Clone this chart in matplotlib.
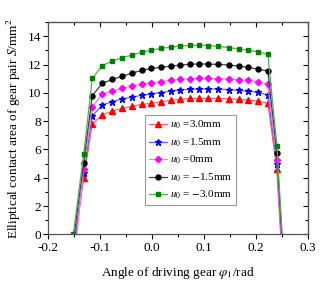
import numpy as np
import matplotlib.pyplot as plt
from matplotlib.ticker import MultipleLocator

plt.rcParams['font.family'] = ['Liberation Serif', 'DejaVu Serif']
plt.rcParams['mathtext.fontset'] = 'stix'

# angle positions of the data points (rad)
x_mid = [-0.1154, -0.0962, -0.0769, -0.0577, -0.0385, -0.0204, -0.0025, 0.0167,
         0.0360, 0.0533, 0.0725, 0.0898, 0.1071, 0.1263, 0.1475, 0.1667, 0.1840,
         0.2033, 0.2225]
x_in = -0.132
x_out = 0.2398

labels = ['$u_0$ =3.0mm', '$u_0$ =1.5mm', '$u_0$ =0mm',
          '$u_0$ = $-$1.5mm', '$u_0$ = $-$3.0mm']

s_p30 = [7.79, 8.45, 8.70, 8.90, 9.05, 9.18, 9.25, 9.37, 9.47, 9.54, 9.60, 9.61,
         9.62, 9.61, 9.58, 9.53, 9.48, 9.42, 9.26]
s_p15 = [8.36, 9.14, 9.37, 9.56, 9.70, 9.82, 9.92, 10.02, 10.12, 10.20, 10.25,
         10.27, 10.27, 10.26, 10.23, 10.18, 10.12, 10.04, 9.84]
s_0 = [9.02, 9.89, 10.15, 10.32, 10.48, 10.60, 10.70, 10.80, 10.88, 10.95, 11.00,
       11.02, 11.02, 11.00, 10.97, 10.92, 10.88, 10.78, 10.60]
s_m15 = [9.80, 10.67, 10.95, 11.17, 11.40, 11.58, 11.72, 11.80, 11.89, 11.96,
         12.02, 12.04, 12.03, 12.01, 11.96, 11.89, 11.80, 11.68, 11.54]
s_m30 = [11.02, 11.92, 12.25, 12.48, 12.68, 12.86, 13.02, 13.14, 13.23, 13.30,
         13.35, 13.36, 13.34, 13.29, 13.20, 13.10, 13.02, 12.90, 12.72]

# edge values (entry / exit of contact)
s_in = [3.96, 4.31, 4.59, 5.06, 5.65]
s_out = [4.59, 4.95, 5.25, 5.72, 6.26]
x_start = [-0.148, -0.147, -0.145, -0.150, -0.152]
x_end = [0.247, 0.248, 0.248, 0.249, 0.250]

series = [s_p30, s_p15, s_0, s_m15, s_m30]
mcolors = ['#FF0000', '#0000FF', '#FF00FF', '#000000', '#008000']
lcolors = ['#FF6060', '#6060FF', '#FF70FF', '#404040', '#50B050']
markers = ['^', '*', 'D', 'o', 's']
msizes = [3.8, 4.6, 3.2, 3.6, 3.2]

fig = plt.figure(figsize=(3.2, 2.83), dpi=100)
ax = fig.add_axes([0.151, 0.172, 0.812, 0.750])

for i in range(5):
    xs = [x_start[i], x_in] + x_mid + [x_out, x_end[i]]
    ys = [0, s_in[i]] + series[i] + [s_out[i], 0]
    first = 0 if i == 4 else 1
    ax.plot(xs, ys, color=lcolors[i], linewidth=0.9, marker=markers[i],
            markersize=msizes[i], markerfacecolor=mcolors[i],
            markeredgecolor=mcolors[i], label=labels[i],
            markevery=list(range(first, len(xs) - 1)))

ax.set_xlim(-0.2, 0.3)
ax.set_ylim(0, 15)
ax.xaxis.set_major_locator(MultipleLocator(0.1))
ax.xaxis.set_minor_locator(MultipleLocator(0.05))
ax.yaxis.set_major_locator(MultipleLocator(2))
ax.yaxis.set_minor_locator(MultipleLocator(1))
ax.set_xticks([-0.2, -0.1, 0.0, 0.1, 0.2, 0.3])
ax.set_xticklabels(['-0.2', '-0.1', '0.0', '0.1', '0.2', '0.3'])
ax.tick_params(which='both', direction='out', top=False, right=False,
               labelsize=9.5, width=0.8, pad=2)
ax.tick_params(which='major', length=3.5)
ax.tick_params(which='minor', length=2)

# inward ticks on the opposite sides
axt = ax.secondary_xaxis('top')
axt.xaxis.set_major_locator(MultipleLocator(0.1))
axt.xaxis.set_minor_locator(MultipleLocator(0.05))
axt.tick_params(which='both', direction='in', labeltop=False, width=0.8)
axt.tick_params(which='major', length=3.5)
axt.tick_params(which='minor', length=2)
axr = ax.secondary_yaxis('right')
axr.yaxis.set_major_locator(MultipleLocator(2))
axr.yaxis.set_minor_locator(MultipleLocator(1))
axr.tick_params(which='both', direction='in', labelright=False, width=0.8)
axr.tick_params(which='major', length=3.5)
axr.tick_params(which='minor', length=2)

for sp in ax.spines.values():
    sp.set_color('#555555')
    sp.set_linewidth(0.9)

ax.set_xlabel(r'Angle of driving gear $\varphi_1$/rad', fontsize=9.5, labelpad=8)
ax.set_ylabel('Elliptical contact area of gear pair $S$/mm$^2$', fontsize=9.5,
              labelpad=3)

leg = ax.legend(loc='upper left', bbox_to_anchor=(0.372, 0.562), borderaxespad=0,
                fontsize=8, frameon=True, fancybox=False, framealpha=1,
                edgecolor='#999999', handlelength=1.6, handletextpad=0.3,
                labelspacing=0.45, borderpad=0.35)
leg.get_frame().set_linewidth(0.8)

plt.savefig('out.png', dpi=100)
